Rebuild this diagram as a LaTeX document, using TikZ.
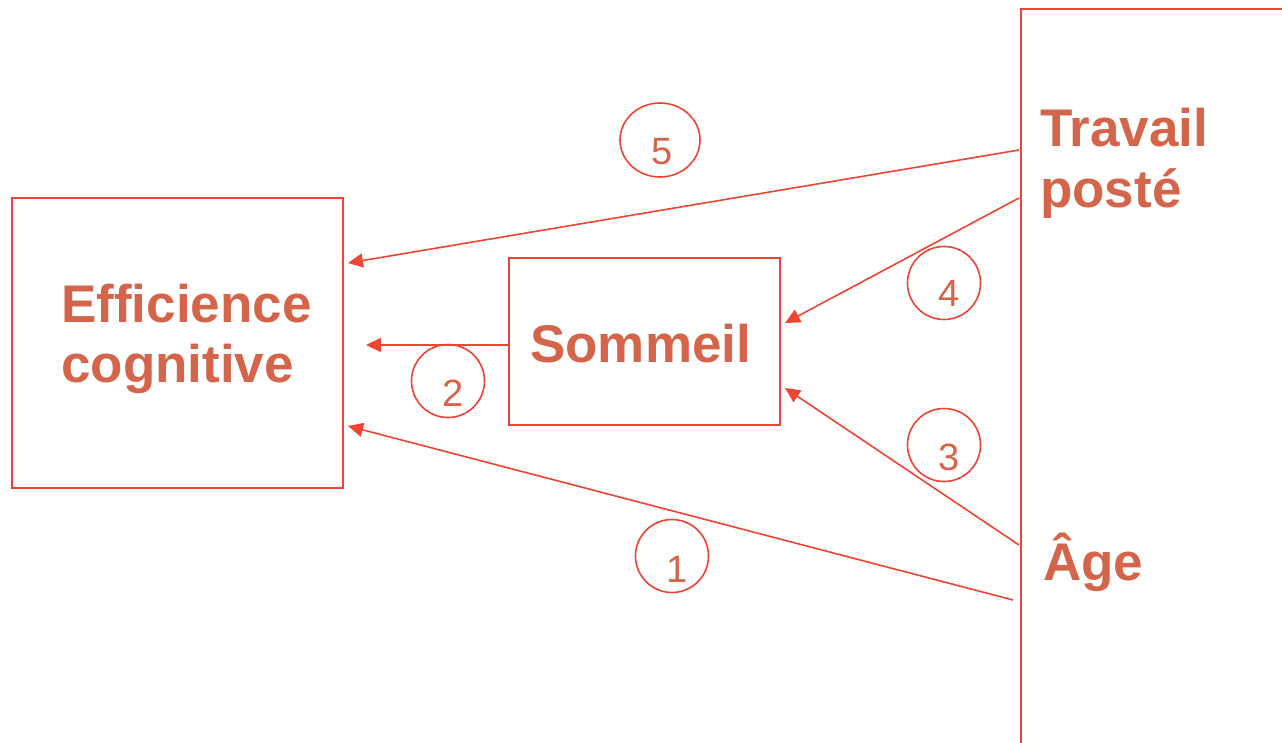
\documentclass[tikz,border=0pt]{standalone}
\usepackage{fontspec}
\setmainfont{Liberation Sans}
\usetikzlibrary{arrows.meta,calc,shapes.geometric}
\definecolor{linered}{HTML}{EE4433}
\definecolor{textred}{HTML}{D4654B}
\tikzset{
  box/.style={draw=linered, line width=1.6pt, rectangle, inner sep=0pt},
  label/.style={font=\bfseries\fontsize{53}{59}\selectfont, text=textred, inner sep=0pt, anchor=base west},
  arrow/.style={draw=linered, line width=1.6pt, -{Triangle[length=15pt,width=14pt]}},
  ring/.style={draw=linered, line width=1.6pt, circle, minimum size=73pt, inner sep=0pt},
  num/.style={font=\fontsize{38}{40}\selectfont, text=textred, inner sep=0pt},
}
\begin{document}
\begin{tikzpicture}[x=1pt, y=-1pt]
  \useasboundingbox (0,0) rectangle (1282,743);
  \clip (0,0) rectangle (1282,743);

  % boxes
  \node[box, minimum width=331pt, minimum height=290pt] (eff) at (177.5,343) {};
  \node[box, minimum width=271pt, minimum height=167pt] (som) at (644.5,341.5) {};
  \node[box, minimum width=400pt, minimum height=800pt, anchor=north west] (right) at (1020,8) {};

  % labels
  \node[label] (efftext1) at (61,323) {Efficience};
  \node[label] (efftext2) at (61,382) {cognitive};
  \node[label] (somtext) at (530,362) {Sommeil};
  \node[label] (travtext1) at (1040,147) {Travail};
  \node[label] (travtext2) at (1040,208) {posté};
  \node[label] (agetext) at (1043,580) {Âge};

  % connector ends
  \coordinate (s5) at (1019,150);
  \coordinate (e5) at (348,263);
  \coordinate (s4) at (1019,198);
  \coordinate (e4) at (785,323);
  \coordinate (s2) at (som.west |- 0,345);
  \coordinate (e2) at (366,345);
  \coordinate (s3) at (1019,545);
  \coordinate (e3) at (785,388);
  \coordinate (s1) at (1013,600);
  \coordinate (e1) at (348,426);

  \draw[arrow] (s5) -- (e5);
  \draw[arrow] (s4) -- (e4);
  \draw[arrow] (s2) -- (e2);
  \draw[arrow] (s3) -- (e3);
  \draw[arrow] (s1) -- (e1);

  % numbered rings
  \node[ring, ellipse, minimum width=80pt, minimum height=74pt] (c5) at (660,140) {};
  \node[ring] (c2) at (448,381) {};
  \node[ring] (c4) at (944,283) {};
  \node[ring] (c3) at (944,445) {};
  \node[ring] (c1) at (672,556) {};

  \node[num] (n5) at ($(c5)+(2,12)$) {5};
  \node[num] (n2) at ($(c2)+(5,12)$) {2};
  \node[num] (n4) at ($(c4)+(5,10)$) {4};
  \node[num] (n3) at ($(c3)+(5,12)$) {3};
  \node[num] (n1) at ($(c1)+(5,13)$) {1};
\end{tikzpicture}
\end{document}
